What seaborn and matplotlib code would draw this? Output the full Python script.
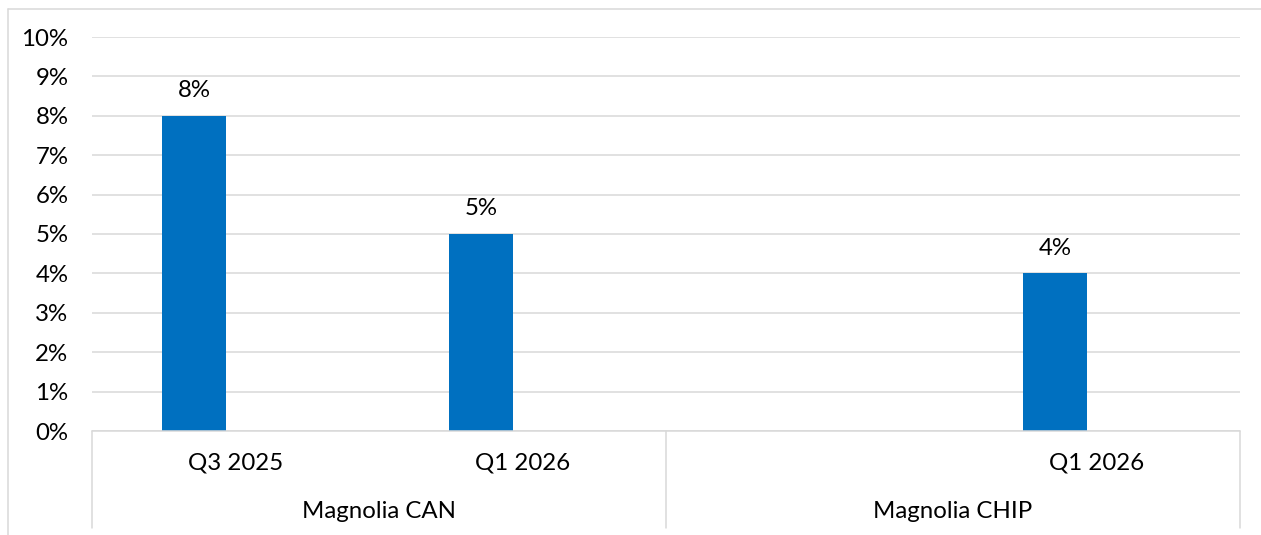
import numpy as np
import pandas as pd
import matplotlib
matplotlib.use("Agg")
import matplotlib.pyplot as plt
from matplotlib.lines import Line2D
from matplotlib.ticker import PercentFormatter, MultipleLocator
from matplotlib import transforms
import seaborn as sns

# --- data -------------------------------------------------------------
groups = ["Magnolia CAN", "Magnolia CHIP"]
periods = ["Q3 2025", "Q1 2026", "", "Q1 2026"]          # one slot per category
period_group = [0, 0, 1, 1]                               # group index of each slot
rates = [0.08, 0.05, np.nan, 0.04]                        # share per slot

# --- style ------------------------------------------------------------
sns.set_theme(style="white")
plt.rcParams["font.family"] = ["Lato", "DejaVu Sans"]
TEXT = "#000000"
GRID = "#d9d9d9"
BAR = "#0070C0"
FS = 17.3

fig = plt.figure(figsize=(12.61, 5.35), dpi=100)
ax = fig.add_axes([92 / 1261, 1 - 431 / 535, (1240 - 92) / 1261, (431 - 37) / 535])

slot = np.arange(len(periods))
bar_shift = -0.145
df = pd.DataFrame({"pos": slot + bar_shift, "rate": rates}).dropna()

sns.barplot(data=df, x="pos", y="rate", native_scale=True, width=0.223,
            color=BAR, saturation=1, linewidth=0, ax=ax, errorbar=None)

ax.set_xlim(-0.5, len(periods) - 0.5)
ax.set_ylim(0, 0.10)
ax.yaxis.set_major_locator(MultipleLocator(0.01))
ax.yaxis.set_major_formatter(PercentFormatter(1.0, decimals=0))
ax.grid(axis="y", color=GRID, linewidth=1.1)
ax.set_axisbelow(True)
for s in ax.spines.values():
    s.set_visible(False)
ax.tick_params(axis="y", length=0, pad=17, labelsize=FS, labelcolor=TEXT)
ax.set_xticks([])
ax.set_xlabel("")
ax.set_ylabel("")

# value labels above the bars
for p in ax.patches:
    h = p.get_height()
    if np.isfinite(h) and h > 0:
        ax.annotate(f"{h:.0%}", (p.get_x() + p.get_width() / 2, h),
                    xytext=(0, 13.5), textcoords="offset points",
                    ha="center", va="baseline", fontsize=FS, color=TEXT)

# two-level category axis
trans = transforms.blended_transform_factory(ax.transData, ax.transAxes)
ax.axhline(0, color=GRID, linewidth=1.1, zorder=3, clip_on=False)
axis_depth = -(528 - 431) / (431 - 37)
row1 = -(463 - 431) / (431 - 37)
row2 = -(512 - 431) / (431 - 37)
for i, lab in enumerate(periods):
    if lab:
        ax.text(i, row1, lab, transform=trans, ha="center", va="center",
                fontsize=FS, color=TEXT)
bounds = [-0.5]
for g in range(len(groups)):
    members = [i for i, k in enumerate(period_group) if k == g]
    lo, hi = min(members) - 0.5, max(members) + 0.5
    bounds.append(hi)
    ax.text((lo + hi) / 2, row2, groups[g], transform=trans, ha="center",
            va="center", fontsize=FS, color=TEXT)
for b in bounds:
    ax.plot([b, b], [0, axis_depth], transform=trans, color=GRID,
            linewidth=1.1, clip_on=False)

# chart frame
fy = 1 - 9 / 535
fx = 8 / 1261
fig.add_artist(Line2D([fx, 1], [fy, fy], transform=fig.transFigure, color=GRID, linewidth=1.1))
fig.add_artist(Line2D([fx, fx], [0, fy], transform=fig.transFigure, color=GRID, linewidth=1.1))

fig.savefig("out.png", dpi=100, facecolor="white")
